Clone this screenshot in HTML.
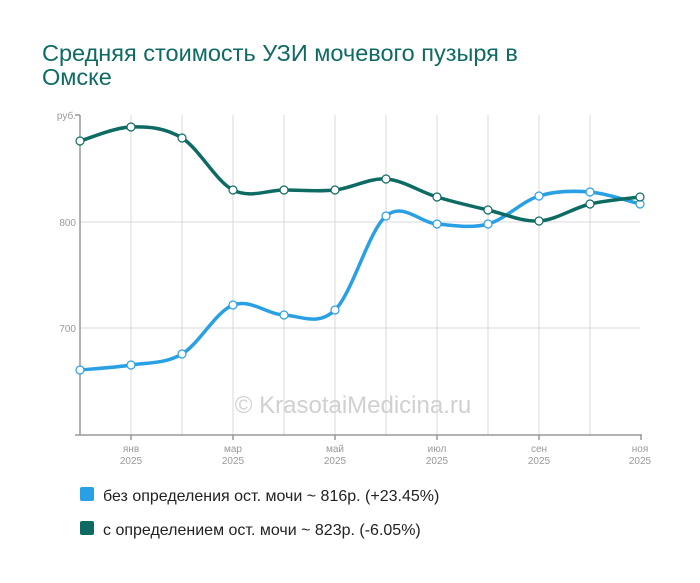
<!DOCTYPE html>
<html><head><meta charset="utf-8"><style>
body{margin:0;background:#fff;width:700px;height:578px;overflow:hidden;font-family:"Liberation Sans",sans-serif}
</style></head><body>
<svg width="700" height="578" xmlns="http://www.w3.org/2000/svg" font-family="Liberation Sans, sans-serif">
<text x="42" y="61" font-size="23.5" fill="#0e6b63">Средняя стоимость УЗИ мочевого пузыря в</text>
<text x="42" y="85" font-size="23.5" fill="#0e6b63">Омске</text>
<g stroke="#d8d8d8" stroke-width="1">
<line x1="80" y1="222" x2="640" y2="222"/><line x1="80" y1="328" x2="640" y2="328"/>
<line x1="131" y1="115" x2="131" y2="435"/><line x1="182" y1="115" x2="182" y2="435"/>
<line x1="233" y1="115" x2="233" y2="435"/><line x1="284" y1="115" x2="284" y2="435"/>
<line x1="335" y1="115" x2="335" y2="435"/><line x1="386" y1="115" x2="386" y2="435"/>
<line x1="437" y1="115" x2="437" y2="435"/><line x1="488" y1="115" x2="488" y2="435"/>
<line x1="539" y1="115" x2="539" y2="435"/><line x1="590" y1="115" x2="590" y2="435"/>
</g>
<g stroke="#999" stroke-width="1.5" fill="none">
<line x1="80" y1="115" x2="80" y2="435"/><line x1="75" y1="115" x2="80" y2="115"/>
<line x1="75" y1="435" x2="642" y2="435"/>
<line x1="131" y1="435" x2="131" y2="440"/><line x1="233" y1="435" x2="233" y2="440"/><line x1="335" y1="435" x2="335" y2="440"/><line x1="437" y1="435" x2="437" y2="440"/><line x1="539" y1="435" x2="539" y2="440"/><line x1="641" y1="435" x2="641" y2="440"/>
</g>
<g font-size="10" fill="#999" text-anchor="end">
<text x="76" y="119">руб.</text><text x="76" y="226">800</text><text x="76" y="332">700</text>
</g>
<g font-size="10" fill="#999" text-anchor="middle">
<text x="131" y="452">янв</text><text x="131" y="464">2025</text>
<text x="233" y="452">мар</text><text x="233" y="464">2025</text>
<text x="335" y="452">май</text><text x="335" y="464">2025</text>
<text x="437" y="452">июл</text><text x="437" y="464">2025</text>
<text x="539" y="452">сен</text><text x="539" y="464">2025</text>
<text x="640" y="452">ноя</text><text x="640" y="464">2025</text>
</g>
<text x="353" y="413" font-size="24" fill="#d0d0d0" text-anchor="middle">© KrasotaiMedicina.ru</text>
<g id="series"></g>
<rect x="80" y="487" width="14" height="14" rx="2" fill="#2aa0e4"/>
<text x="103" y="501" font-size="16" fill="#222">без определения ост. мочи ~ 816р. (+23.45%)</text>
<rect x="80" y="521" width="14" height="14" rx="2" fill="#0e6b63"/>
<text x="103" y="535" font-size="16" fill="#222">с определением ост. мочи ~ 823р. (-6.05%)</text>
</svg>
<script>
var xs=[80,131,182,233,284,335,386,437,488,539,590,640];
var blue=[370,365,354,305,315,310,216,224,224,196,192,204];
var green=[141,127,138,190,190,190,179,197,210,221,204,197];
function path(ys){var d="M"+xs[0]+","+ys[0];for(var i=0;i<xs.length-1;i++){var p0=i?i-1:0,p3=i+2<xs.length?i+2:i+1;
var c1x=xs[i]+(xs[i+1]-xs[p0])/6,c1y=ys[i]+(ys[i+1]-ys[p0])/6,c2x=xs[i+1]-(xs[p3]-xs[i])/6,c2y=ys[i+1]-(ys[p3]-ys[i])/6;
d+=" C"+c1x+","+c1y+" "+c2x+","+c2y+" "+xs[i+1]+","+ys[i+1];}return d;}
var g=document.getElementById("series"),h="";
[[blue,"#2aa0e4"],[green,"#0e6b63"]].forEach(function(s){h+='<path d="'+path(s[0])+'" fill="none" stroke="'+s[1]+'" stroke-width="3.5"/>';
s[0].forEach(function(y,i){h+='<circle cx="'+xs[i]+'" cy="'+y+'" r="4" fill="#fff" stroke="'+s[1]+'" stroke-width="1.2"/>';});});
g.innerHTML=h;
</script>
</body></html>
